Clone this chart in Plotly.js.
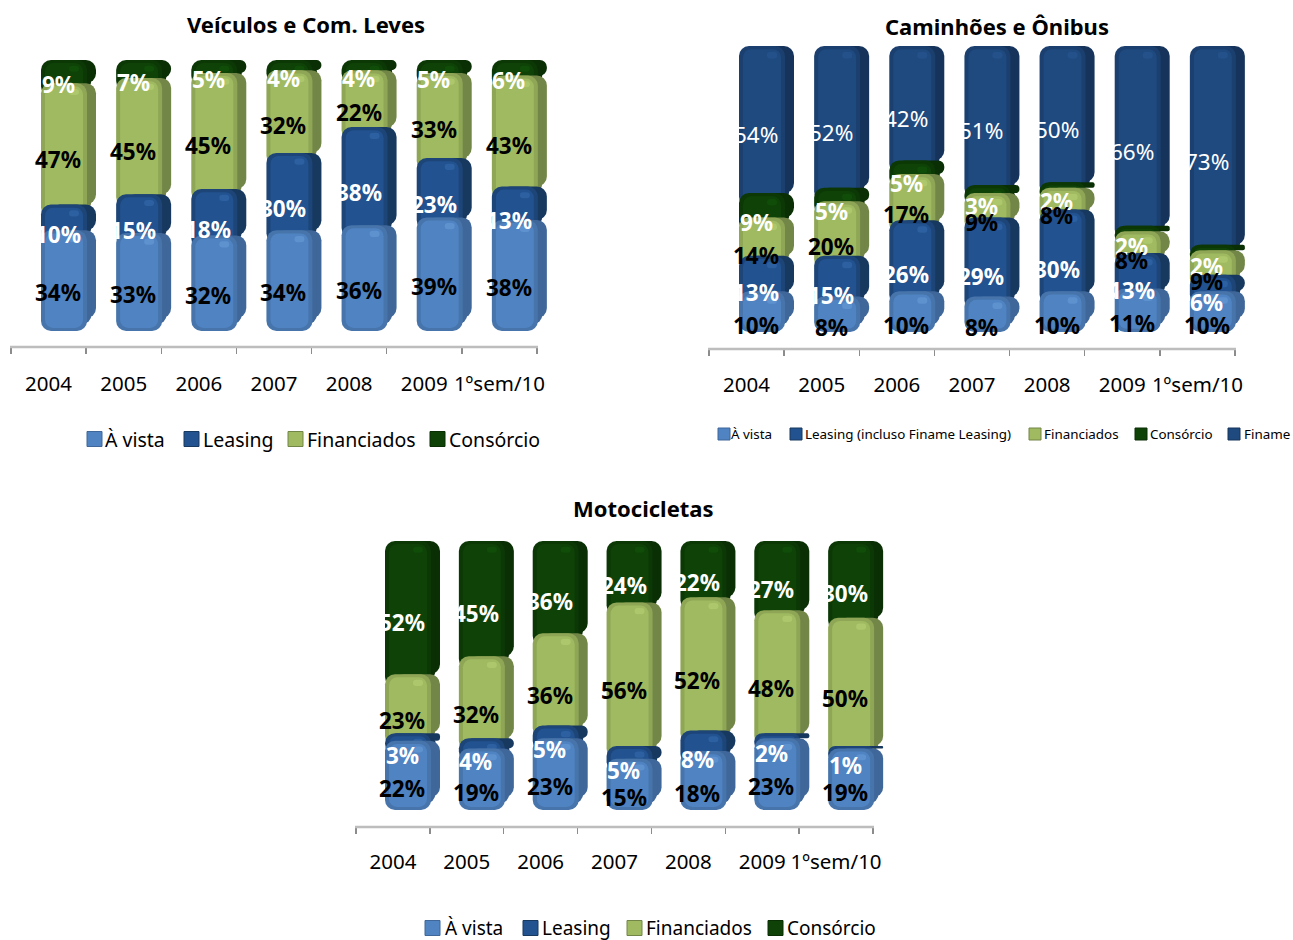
<!DOCTYPE html>
<html><head><meta charset="utf-8">
<script src="https://cdn.plot.ly/plotly-3.0.1.min.js"></script>
<style>html,body{margin:0;padding:0;background:#fff}</style></head>
<body><div id="chart" style="width:1293px;height:940px"></div>
<script>
const categories = ['2004','2005','2006','2007','2008','2009','1ºsem/10'];
const veicAvista = [34,33,32,34,36,39,38];
const veicLeasing = [10,15,18,30,38,23,13];
const veicFinanciados = [47,45,45,32,22,33,43];
const veicConsorcio = [9,7,5,4,4,5,6];
const camAvista = [10,8,10,8,10,11,10];
const camLeasing = [13,15,26,29,30,13,6];
const camFinanciados = [14,20,17,9,8,8,9];
const camConsorcio = [9,5,5,3,2,2,2];
const camFiname = [54,52,42,51,50,66,73];
const motoAvista = [22,19,23,15,18,23,19];
const motoLeasing = [3,4,5,5,8,2,1];
const motoFinanciados = [23,32,36,56,52,48,50];
const motoConsorcio = [52,45,36,24,22,27,30];

const W = 1293, H = 940, FONT = '"Noto Sans", "Open Sans", sans-serif';
const C = {
  avista:{main:'#4f83c2',edge:'#4674ab',side:'#3f6799',hi:'#6ea3e0',txt:'#000',weight:700},
  leasing:{main:'#22528f',edge:'#1d4578',side:'#18395f',hi:'#3a70b5',txt:'#fff',weight:700},
  fin:{main:'#9fba60',edge:'#8ea655',side:'#728647',hi:'#bdd67c',txt:'#000',weight:700},
  cons:{main:'#0e4207',edge:'#0c3806',side:'#0a2f05',hi:'#125a0a',txt:'#fff',weight:700},
  finame:{main:'#1f4a80',edge:'#1b3f6e',side:'#16345b',hi:'#2c5c98',txt:'#fff',weight:400}
};
const panels = [
 {title:'Veículos e Com. Leves',tx:306,ty:24,x0:11,x1:537,axisY:347,baseY:331,topY:60,barL:41,standoff:22,
  series:[['À vista',veicAvista,C.avista],['Leasing',veicLeasing,C.leasing],['Financiados',veicFinanciados,C.fin],['Consórcio',veicConsorcio,C.cons]],
  legendY:439,legendSize:19.5,swatch:15,swatchX:[87,184,288,430],textX:[105,203,307,449]},
 {title:'Caminhões e Ônibus',tx:997,ty:26,x0:709,x1:1235,axisY:349,baseY:332,topY:46,barL:739,standoff:21,
  series:[['À vista',camAvista,C.avista],['Leasing (incluso Finame Leasing)',camLeasing,C.leasing],['Financiados',camFinanciados,C.fin],['Consórcio',camConsorcio,C.cons],['Finame',camFiname,C.finame]],
  legendY:434,legendSize:13.4,swatch:12,swatchX:[718,790,1029,1135,1228],textX:[731,805,1044,1150,1244]},
 {title:'Motocicletas',tx:643,ty:508,x0:356,x1:873,axisY:827,baseY:810,topY:541,barL:385,standoff:20,
  series:[['À vista',motoAvista,C.avista],['Leasing',motoLeasing,C.leasing],['Financiados',motoFinanciados,C.fin],['Consórcio',motoConsorcio,C.cons]],
  legendY:928,legendSize:19,swatch:15,swatchX:[425,523,627,768],textX:[445,542,646,787]}
];

const DEPTH = 5, BLOCK_PX = 55, FRONT_PX = 46, INSET_PX = 4, OVERHANG_PX = 14, LABEL_SCALE = 1.027;
const traces = [], annotations = [], shapes = [];
const layout = {width:W,height:H,margin:{l:0,r:0,t:0,b:0,autoexpand:false},paper_bgcolor:'#fff',plot_bgcolor:'rgba(0,0,0,0)',
  barmode:'overlay',barcornerradius:10,font:{family:FONT,color:'#000'},showlegend:false};
const xs = categories.map((_,i)=>i);

panels.forEach((p,k)=>{
  const sfx = k===0?'':String(k+1);
  const ppu = (p.x1-p.x0)/7;              // pixels per category
  const s = (p.baseY-p.topY)/(100+DEPTH); // pixels per percent
  const catCentre = p.x0+ppu/2;
  const frontOff = (p.barL-catCentre)/ppu, frontW = FRONT_PX/ppu, sideOff = frontOff+(BLOCK_PX-FRONT_PX)/ppu;
  const midOff = (frontOff+sideOff)/2, insetPx = INSET_PX/ppu;
  const topPx = p.topY-12;
  layout['xaxis'+sfx] = {domain:[p.x0/W,(p.x1+OVERHANG_PX)/W],anchor:'y'+sfx,type:'category',range:[-0.5,6.5+OVERHANG_PX/ppu],
    tickmode:'array',tickvals:xs,ticktext:categories,tickson:'boundaries',ticks:'outside',ticklen:6,tickwidth:1.5,tickcolor:'#8c8c8c',
    showline:false,showgrid:false,zeroline:false,fixedrange:true,automargin:false,tickangle:0,
    tickfont:{family:FONT,size:20.5,color:'#000'},ticklabelstandoff:p.standoff};
  layout['yaxis'+sfx] = {domain:[1-p.axisY/H,1-topPx/H],anchor:'x'+sfx,
    range:[-(p.axisY-p.baseY)/s,(p.baseY-topPx)/s],visible:false,fixedrange:true};
  shapes.push({type:'line',xref:'paper',yref:'paper',x0:(p.x0-1)/W,x1:(p.x1+1)/W,y0:1-p.axisY/H,y1:1-p.axisY/H,line:{color:'#bdbdbd',width:2.5}});
  const bases = []; let run = categories.map(()=>0);
  p.series.forEach(se=>{bases.push(run.slice()); run = run.map((v,i)=>v+se[1][i]);});
  for(let j=p.series.length-1;j>=0;j--){
    const [name,vals,col] = p.series[j];
    const common = {type:'bar',x:xs,xaxis:'x'+sfx,yaxis:'y'+sfx,hoverinfo:'skip',name:name};
    // extruded back and diagonal of the block
    traces.push(Object.assign({},common,{y:vals,base:bases[j].map(b=>b+DEPTH),width:frontW,offset:sideOff,marker:{color:col.side,line:{width:0}}}));
    traces.push(Object.assign({},common,{y:vals,base:bases[j].map(b=>b+DEPTH/2),width:frontW,offset:midOff,marker:{color:col.side,line:{width:0}}}));
    // front face with darker rim
    traces.push(Object.assign({},common,{y:vals.map(v=>v+DEPTH),base:bases[j],width:frontW,offset:frontOff,marker:{color:col.edge,line:{width:0}}}));
    traces.push(Object.assign({},common,{y:vals.map(v=>v+DEPTH-2.4),base:bases[j].map(b=>b+1.2),width:frontW-2*insetPx,offset:frontOff+insetPx,marker:{color:col.main,line:{width:0},cornerradius:8}}));
    // glossy spot near the upper right of the face
    traces.push(Object.assign({},common,{y:vals.map(()=>2.4),base:bases[j].map((b,i)=>b+vals[i]+DEPTH-4.6),width:10/ppu,offset:frontOff+frontW-insetPx-14/ppu,marker:{color:col.hi,opacity:0.45,line:{width:0},cornerradius:3}}));
    vals.forEach((v,i)=>annotations.push({xref:'x'+sfx,yref:'y'+sfx,x:i+(p.barL+22-catCentre)/ppu,y:(bases[j][i]+v/2)*LABEL_SCALE,
      xshift:-5,yshift:-7,text:v+'%',showarrow:false,font:{family:FONT,size:22.5,color:col.txt,weight:col.weight}}));
  }
  annotations.push({xref:'paper',yref:'paper',x:p.tx/W,y:1-p.ty/H,text:'<b>'+p.title+'</b>',showarrow:false,
    xanchor:'center',yanchor:'middle',font:{family:FONT,size:22,color:'#000'}});
  p.series.forEach((se,j)=>{
    const sx=p.swatchX[j], half=p.swatch/2;
    shapes.push({type:'rect',xref:'paper',yref:'paper',x0:sx/W,x1:(sx+p.swatch)/W,y0:1-(p.legendY+half)/H,y1:1-(p.legendY-half)/H,
      fillcolor:se[2].main,line:{color:se[2].side,width:1}});
    annotations.push({xref:'paper',yref:'paper',x:p.textX[j]/W,y:1-p.legendY/H,text:se[0],showarrow:false,xanchor:'left',yanchor:'middle',
      xshift:-2,font:{family:FONT,size:p.legendSize,color:'#000'}});
  });
});
layout.annotations = annotations;
layout.shapes = shapes;
Plotly.newPlot('chart',traces,layout,{displayModeBar:false,staticPlot:true});
</script></body></html>
